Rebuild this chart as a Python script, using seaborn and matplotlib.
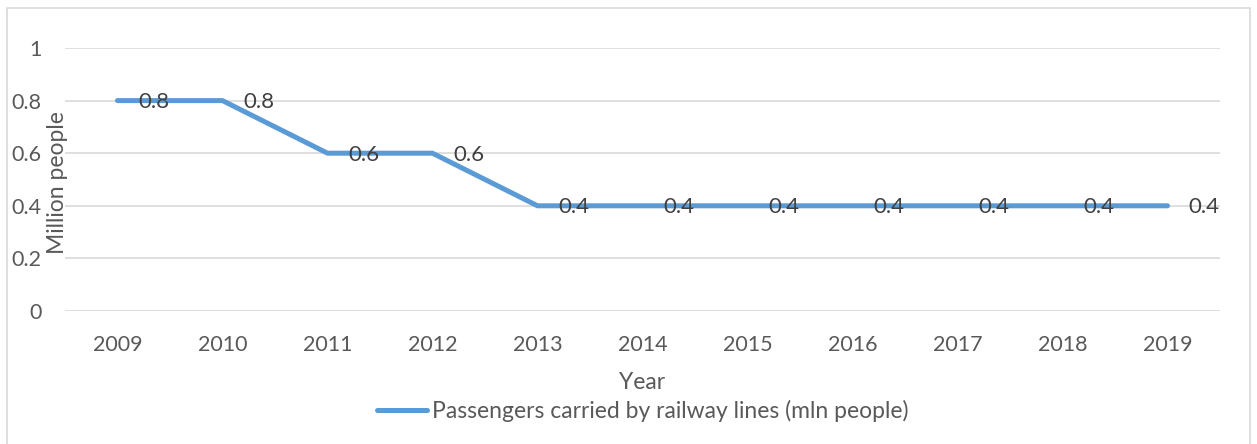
import matplotlib
matplotlib.use("Agg")
import matplotlib.pyplot as plt
import matplotlib.patches as mpatches
import pandas as pd
import seaborn as sns

# chart data
years = ["2009", "2010", "2011", "2012", "2013", "2014", "2015", "2016", "2017", "2018", "2019"]
passengers = [0.8, 0.8, 0.6, 0.6, 0.4, 0.4, 0.4, 0.4, 0.4, 0.4, 0.4]
y_ticks = [0, 0.2, 0.4, 0.6, 0.8, 1]
y_tick_labels = ["0", "0.2", "0.4", "0.6", "0.8", "1"]
series_name = "Passengers carried by railway lines (mln people)"

df = pd.DataFrame({"Year": years, "Passengers": passengers})

sns.set_theme(style="white")
plt.rcParams["font.family"] = ["Lato", "DejaVu Sans"]

line_color = "#5B9BD5"
grid_color = "#D9D9D9"
tick_color = "#595959"
label_color = "#404040"

fig = plt.figure(figsize=(12.57, 4.44), dpi=100)
ax = fig.add_axes([65 / 1257, 1 - 311 / 444, 1155 / 1257, 263 / 444])

sns.lineplot(data=df, x="Year", y="Passengers", ax=ax, color=line_color,
             linewidth=3.6, solid_capstyle="round", label=series_name, sort=False)

# data labels to the right of each point
for i, v in enumerate(passengers):
    ax.annotate(f"{v:g}", xy=(i, v), xytext=(15, -1), textcoords="offset points",
                ha="left", va="center", fontsize=16, color=label_color)

ax.set_xlim(-0.5, len(years) - 0.5)
ax.set_ylim(0, 1)
ax.set_yticks(y_ticks)
ax.set_yticklabels(y_tick_labels)
ax.yaxis.grid(True, color=grid_color, linewidth=1.2)
ax.xaxis.grid(False)
for s in ax.spines.values():
    s.set_visible(False)
ax.tick_params(axis="both", length=0, labelsize=15.5, labelcolor=tick_color)
ax.tick_params(axis="y", pad=17)
ax.tick_params(axis="x", pad=17)

ax.set_xlabel("Year", fontsize=16.5, color=tick_color)
ax.set_ylabel("Million people", fontsize=16.5, color=tick_color)
ax.xaxis.set_label_coords(0.5, -0.232)
ax.yaxis.set_label_coords(0.003, 0.487)

leg = ax.legend(loc="center", bbox_to_anchor=(0.5, -0.38), frameon=False,
                fontsize=16.5, handlelength=2.2, handletextpad=0.2)
for t in leg.get_texts():
    t.set_color(tick_color)

# light chart border
fig.patches.append(mpatches.Rectangle((7 / 1257, -0.01), 1243 / 1257, 1 - 8 / 444 + 0.01,
                                      transform=fig.transFigure, fill=False,
                                      edgecolor=grid_color, linewidth=1.2))

fig.savefig("out.png", dpi=100)
plt.close(fig)
